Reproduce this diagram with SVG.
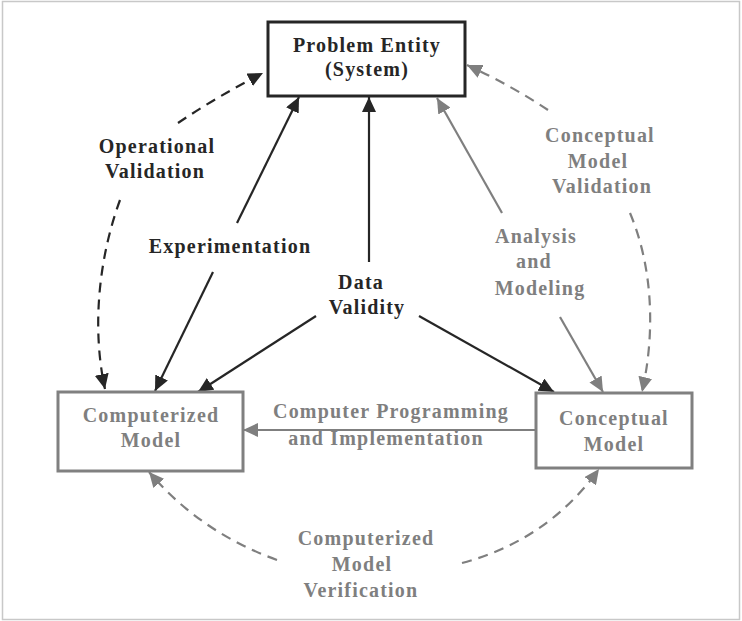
<svg xmlns="http://www.w3.org/2000/svg" width="742" height="621" viewBox="0 0 742 621">
  <style>
    .lbl { font-family: "Liberation Serif", "Times New Roman", serif; font-weight: bold; font-size: 20px; letter-spacing: 1.2px; text-anchor: middle; }
    .dark { fill: #262626; }
    .grey { fill: #7f7f7f; }
    .box-dark { fill: #ffffff; stroke: #262626; stroke-width: 3; }
    .box-grey { fill: #ffffff; stroke: #808080; stroke-width: 3; }
    .ln-dark { fill: none; stroke: #262626; stroke-width: 2.2; marker-end: url(#head-dark); }
    .ln-grey { fill: none; stroke: #7f7f7f; stroke-width: 2.2; marker-end: url(#head-grey); }
    .dash { stroke-dasharray: 10 7; }
    .plain-dark { fill: none; stroke: #262626; stroke-width: 2.2; }
    .plain-grey { fill: none; stroke: #7f7f7f; stroke-width: 2.2; }
  </style>
  <defs>
    <marker id="head-dark" markerUnits="userSpaceOnUse" markerWidth="16" markerHeight="14" refX="15" refY="7" orient="auto">
      <path d="M0,0 L15,7 L0,14 z" fill="#262626"/>
    </marker>
    <marker id="head-grey" markerUnits="userSpaceOnUse" markerWidth="16" markerHeight="14" refX="15" refY="7" orient="auto">
      <path d="M0,0 L15,7 L0,14 z" fill="#7f7f7f"/>
    </marker>
  </defs>

  <!-- frame -->
  <rect x="2.5" y="1.5" width="737" height="618" fill="#ffffff" stroke="#c8c8c8" stroke-width="1.5"/>

  <!-- connectors -->
  <g id="connectors">
    <!-- operational validation (dashed, dark) -->
    <path class="ln-dark dash" d="M178,123 Q218,96 263,73"/>
    <path class="ln-dark dash" d="M120,200 C98,260 92,330 105,389"/>
    <!-- experimentation -->
    <path class="ln-dark" d="M237,223 L299,97"/>
    <path class="ln-dark" d="M213,272 L155,391"/>
    <!-- data validity -->
    <path class="ln-dark" d="M369,262 L369,97"/>
    <path class="ln-dark" d="M316,316 L198,392"/>
    <path class="ln-dark" d="M419,316 L554,392"/>
    <!-- analysis and modeling -->
    <path class="ln-grey" d="M502,213 L437,98"/>
    <path class="ln-grey" d="M560,317 L603,392"/>
    <!-- conceptual model validation (dashed, grey) -->
    <path class="ln-grey dash" d="M548,110 Q512,86 467,65"/>
    <path class="ln-grey dash" d="M630,213 C652,265 656,330 642,392"/>
    <!-- computer programming and implementation -->
    <path class="ln-grey" d="M535,430 L243,430"/>
    <!-- computerized model verification (dashed, grey) -->
    <path class="ln-grey dash" d="M277,560 Q200,532 149,472"/>
    <path class="ln-grey dash" d="M462,563 Q548,540 599,469"/>
  </g>

  <!-- nodes -->
  <g id="problem-entity">
    <rect class="box-dark" x="268" y="22" width="197" height="74"/>
    <text class="lbl dark" x="367" y="52">Problem Entity</text>
    <text class="lbl dark" x="367" y="76">(System)</text>
  </g>
  <g id="computerized-model">
    <rect class="box-grey" x="58" y="392" width="185" height="79"/>
    <text class="lbl grey" x="151" y="422">Computerized</text>
    <text class="lbl grey" x="151" y="447">Model</text>
  </g>
  <g id="conceptual-model">
    <rect class="box-grey" x="536" y="393" width="156" height="75"/>
    <text class="lbl grey" x="614" y="425">Conceptual</text>
    <text class="lbl grey" x="614" y="451">Model</text>
  </g>

  <!-- connector labels -->
  <g id="labels">
    <text class="lbl dark" x="157" y="153">Operational</text>
    <text class="lbl dark" x="155" y="178">Validation</text>
    <text class="lbl dark" x="230" y="253">Experimentation</text>
    <text class="lbl dark" x="361" y="289">Data</text>
    <text class="lbl dark" x="367" y="314">Validity</text>
    <text class="lbl grey" x="536" y="243">Analysis</text>
    <text class="lbl grey" x="534" y="268">and</text>
    <text class="lbl grey" x="540" y="295">Modeling</text>
    <text class="lbl grey" x="600" y="142">Conceptual</text>
    <text class="lbl grey" x="598" y="168">Model</text>
    <text class="lbl grey" x="602" y="193">Validation</text>
    <text class="lbl grey" x="391" y="418">Computer Programming</text>
    <text class="lbl grey" x="386" y="445">and Implementation</text>
    <text class="lbl grey" x="366" y="545">Computerized</text>
    <text class="lbl grey" x="362" y="571">Model</text>
    <text class="lbl grey" x="361" y="597">Verification</text>
  </g>
</svg>
